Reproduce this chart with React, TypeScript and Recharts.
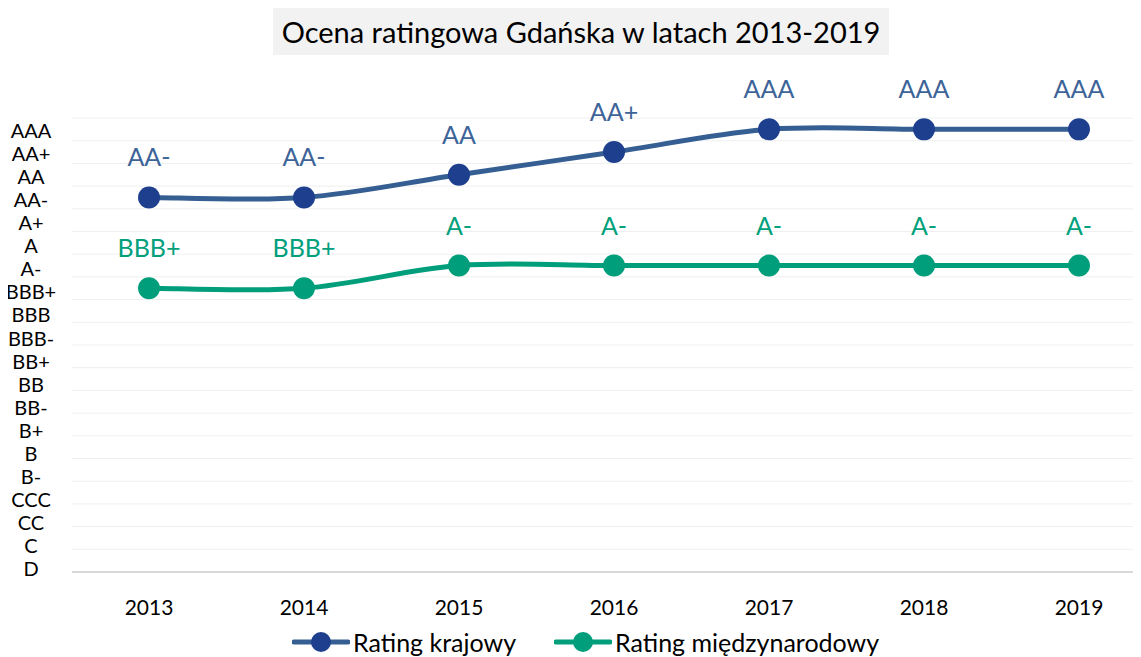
import { LineChart, Line, XAxis, YAxis, CartesianGrid, Legend, LabelList } from 'recharts'

const RATINGS = ['AAA', 'AA+', 'AA', 'AA-', 'A+', 'A', 'A-', 'BBB+', 'BBB', 'BBB-', 'BB+', 'BB', 'BB-', 'B+', 'B', 'B-', 'CCC', 'CC', 'C', 'D']
const YEARS = ['2013', '2014', '2015', '2016', '2017', '2018', '2019']
const KRAJOWY = ['AA-', 'AA-', 'AA', 'AA+', 'AAA', 'AAA', 'AAA']
const MIEDZYNARODOWY = ['BBB+', 'BBB+', 'A-', 'A-', 'A-', 'A-', 'A-']

const BLUE_LINE = '#355e93'
const BLUE_DOT = '#1d3f8d'
const BLUE_TEXT = '#3d6498'
const GREEN = '#009e7b'
const GREEN_TEXT = '#00a07c'
const FONT = 'Lato, "Open Sans", sans-serif'

const N = RATINGS.length
// each rating sits in the middle of its band, AAA at the top
const toValue = (r: string) => N - 1 - RATINGS.indexOf(r) + 0.5
const toRating = (v: number) => RATINGS[Math.round(N - 1 - (v - 0.5))]

const data = YEARS.map((year, i) => ({
  year,
  krajowy: toValue(KRAJOWY[i]),
  krajowyLabel: KRAJOWY[i],
  miedzy: toValue(MIEDZYNARODOWY[i]),
  miedzyLabel: MIEDZYNARODOWY[i],
}))

const yTicks = RATINGS.map((r) => toValue(r))
const gridValues = [...RATINGS.map((_, i) => i), N]

// Excel-style smooth line (Catmull-Rom as cubic beziers)
function excelCurve(context: any) {
  let pts: number[][] = []
  return {
    areaStart() {},
    areaEnd() {},
    lineStart() {
      pts = []
    },
    point(x: number, y: number) {
      pts.push([+x, +y])
    },
    lineEnd() {
      const n = pts.length
      if (!n) return
      context.moveTo(pts[0][0], pts[0][1])
      for (let i = 0; i < n - 1; i++) {
        const p0 = pts[Math.max(i - 1, 0)]
        const p1 = pts[i]
        const p2 = pts[i + 1]
        const p3 = pts[Math.min(i + 2, n - 1)]
        context.bezierCurveTo(
          p1[0] + (p2[0] - p0[0]) / 6,
          p1[1] + (p2[1] - p0[1]) / 6,
          p2[0] - (p3[0] - p1[0]) / 6,
          p2[1] - (p3[1] - p1[1]) / 6,
          p2[0],
          p2[1],
        )
      }
    },
  }
}

const YTick = ({ y, payload }: any) => (
  <text x={31} y={y + 2 + (y - 130) * 0.014} dy="0.35em" textAnchor="middle" fontSize={20} fill="#000" fontFamily={FONT}>
    {toRating(payload.value)}
  </text>
)

const LEGEND_ITEMS = [
  { line: BLUE_LINE, dot: BLUE_DOT, label: 'Rating krajowy' },
  { line: GREEN, dot: GREEN, label: 'Rating międzynarodowy' },
]

const renderLegend = () => (
  <div style={{ display: 'flex', paddingLeft: 292, gap: 38, fontFamily: FONT, fontSize: 25, color: '#000', paddingTop: 6 }}>
    {LEGEND_ITEMS.map((item) => (
      <div key={item.label} style={{ display: 'flex', alignItems: 'center', gap: 3 }}>
        <svg width={58} height={24}>
          <line x1={2} y1={12} x2={56} y2={12} stroke={item.line} strokeWidth={5} strokeLinecap="round" />
          <circle cx={29} cy={12} r={10} fill={item.dot} />
        </svg>
        <span>{item.label}</span>
      </div>
    ))}
  </div>
)

export default function App() {
  return (
    <div style={{ position: 'relative', left: -8, top: -8, width: 1141, height: 657, overflow: 'hidden', background: '#fff' }}>
      <div
        style={{
          position: 'absolute',
          left: 273,
          top: 8,
          width: 616,
          height: 47,
          background: '#f2f2f2',
          display: 'flex',
          alignItems: 'center',
          justifyContent: 'center',
          fontFamily: FONT,
          fontSize: 29,
          color: '#000',
          zIndex: 1,
        }}
      >
        Ocena ratingowa Gdańska w latach 2013-2019
      </div>
      <LineChart width={1160} height={657} data={data} margin={{ top: 118, right: 4, left: 0, bottom: 0 }}>
        <CartesianGrid horizontal vertical={false} horizontalValues={gridValues} stroke="#efefef" />
        <XAxis
          dataKey="year"
          axisLine={{ stroke: '#d9d9d9', strokeWidth: 2 }}
          tickLine={false}
          tickMargin={22}
          height={49}
          padding={{ left: 77, right: 77 }}
          tick={{ fontSize: 21, fill: '#000', fontFamily: FONT }}
        />
        <YAxis
          type="number"
          domain={[0, N]}
          ticks={yTicks}
          interval={0}
          width={72}
          axisLine={false}
          tickLine={false}
          tick={<YTick />}
        />
        <Legend verticalAlign="bottom" height={36} content={renderLegend} />
        <Line
          type={excelCurve as any}
          dataKey="krajowy"
          name="Rating krajowy"
          stroke={BLUE_LINE}
          strokeWidth={5}
          dot={{ r: 11, fill: BLUE_DOT, stroke: 'none' }}
          activeDot={false}
          isAnimationActive={false}
        >
          <LabelList dataKey="krajowyLabel" position="top" offset={31} fill={BLUE_TEXT} fontSize={25} fontFamily={FONT} />
        </Line>
        <Line
          type={excelCurve as any}
          dataKey="miedzy"
          name="Rating międzynarodowy"
          stroke={GREEN}
          strokeWidth={5}
          dot={{ r: 11, fill: GREEN, stroke: 'none' }}
          activeDot={false}
          isAnimationActive={false}
        >
          <LabelList dataKey="miedzyLabel" position="top" offset={31} fill={GREEN_TEXT} fontSize={25} fontFamily={FONT} />
        </Line>
      </LineChart>
    </div>
  )
}
